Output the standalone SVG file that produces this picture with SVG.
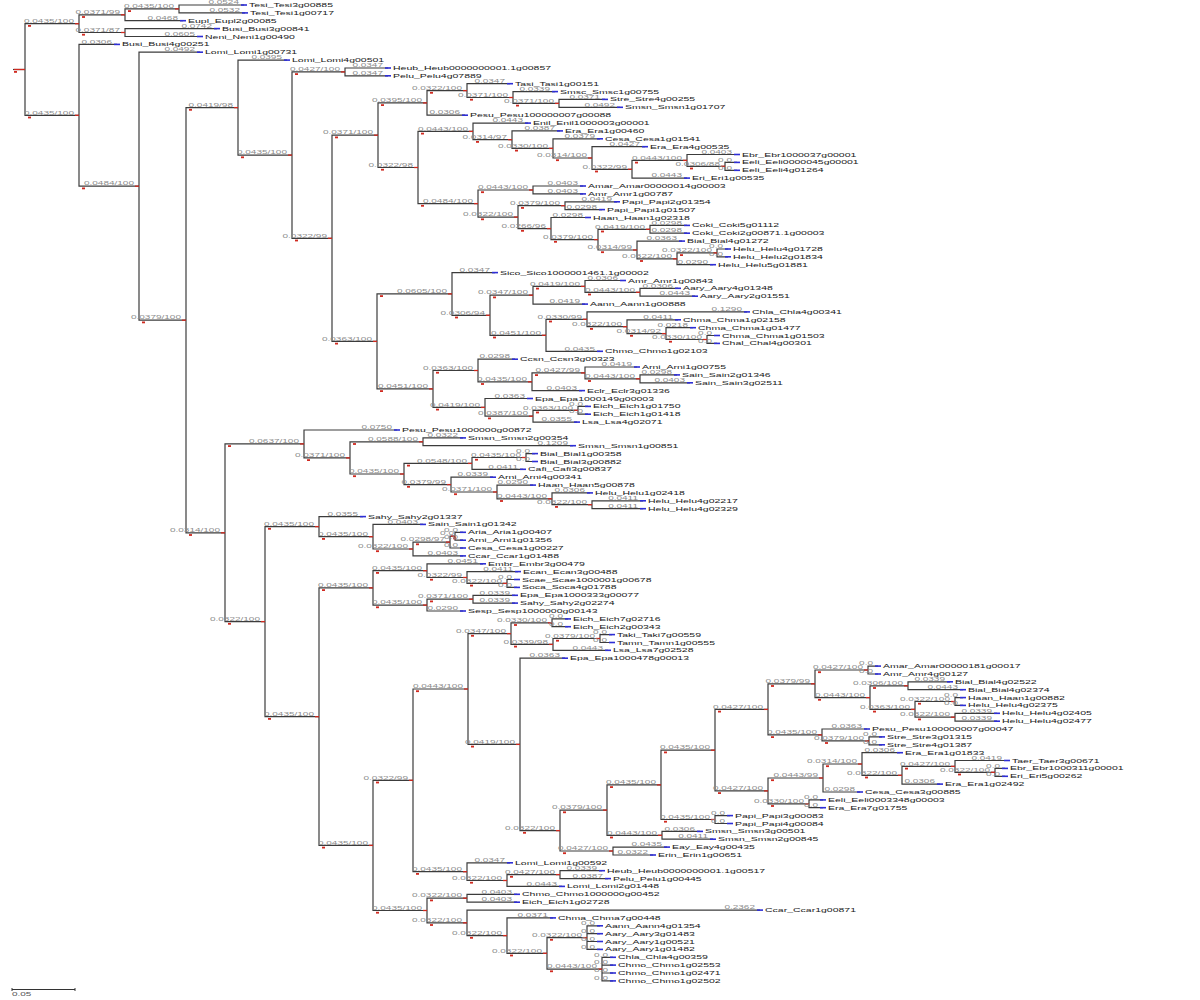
<svg xmlns="http://www.w3.org/2000/svg" width="1200" height="1000" viewBox="0 0 1200 1000">
<style>
.c path{fill:none;stroke:#3c3c3c;stroke-width:1.2}
.bt{stroke:#2e2ed6;stroke-width:1.6;fill:none}
.rt{stroke:#d02a20;stroke-width:1.3;fill:none}
.rm{fill:#d02a20}
text{font-family:"Liberation Sans",Arial,sans-serif;transform-box:fill-box;transform-origin:0 50%}
.nm{font-size:10.5px;fill:#202020;transform:scaleY(.55)}
.bl{font-size:10px;fill:#8c8c8c;text-anchor:end;transform:scaleY(.45)}
.sc{font-size:10px;fill:#555;transform:scaleY(.5)}
</style>
<rect width="1200" height="1000" fill="#fff"/>
<g id="connectors" class="c">
<path d="M13 69.5H25"/>
<path d="M79 23.7H25V115.3H79"/>
<path d="M125 14.8H79V32.5H125"/>
<path d="M179 8.9H125V20.7H183"/>
<path d="M244 5H179V12.9H245"/>
<path d="M217 28.6H125V36.5H200"/>
<path d="M117 44.4H79V186.2H139"/>
<path d="M200 52.2H139V320.2H186"/>
<path d="M238 107.6H186V532.8H225"/>
<path d="M287 60.1H238V155.1H292"/>
<path d="M345 71.9H292V238.3H332"/>
<path d="M388 68H345V75.8H388"/>
<path d="M378 135.2H332V341.4H377"/>
<path d="M427 102.9H378V167.5H418"/>
<path d="M467 90.6H427V115.2H465"/>
<path d="M510 83.7H467V97.5H513"/>
<path d="M555 91.6H513V103.4H559"/>
<path d="M605 99.4H559V107.3H620"/>
<path d="M473 131.4H418V203.6H478"/>
<path d="M528 123.1H473V139.7H512"/>
<path d="M560 130.9H512V148.4H553"/>
<path d="M600 138.8H553V158H592"/>
<path d="M645 146.7H592V169.3H632"/>
<path d="M687 160.4H632V178.1H687"/>
<path d="M737 154.5H687V166.3H725"/>
<path d="M737 162.4H725V170.3H737"/>
<path d="M533 190H478V217.1H518"/>
<path d="M583 186H533V193.9H583"/>
<path d="M565 205.7H518V228.6H551"/>
<path d="M617 201.8H565V209.6H602"/>
<path d="M588 217.5H551V239.6H598"/>
<path d="M650 229.3H598V250H637"/>
<path d="M687 225.4H650V233.2H687"/>
<path d="M682 241.1H637V258.8H677"/>
<path d="M717 252.9H677V264.7H713"/>
<path d="M728 249H717V256.8H728"/>
<path d="M452 293.9H377V388.9H433"/>
<path d="M495 272.6H452V315.3H490"/>
<path d="M533 295.2H490V335.3H546"/>
<path d="M585 286.4H533V304.1H585"/>
<path d="M623 280.5H585V292.3H640"/>
<path d="M678 288.3H640V296.2H695"/>
<path d="M587 319.3H546V351.3H600"/>
<path d="M747 311.9H587V326.7H627"/>
<path d="M678 319.8H627V333.6H666"/>
<path d="M693 327.7H666V339.5H707"/>
<path d="M717 335.5H707V343.4H717"/>
<path d="M478 370.5H433V407.4H485"/>
<path d="M515 359.2H478V381.8H532"/>
<path d="M585 372.9H532V390.6H582"/>
<path d="M637 367H585V378.8H640"/>
<path d="M677 374.9H640V382.8H690"/>
<path d="M530 398.5H485V416.2H533"/>
<path d="M578 410.3H533V422.1H577"/>
<path d="M588 406.4H578V414.2H588"/>
<path d="M304 443.9H225V621.6H265"/>
<path d="M397 430H304V457.9H350"/>
<path d="M423 441.8H350V474H404"/>
<path d="M463 437.9H423V445.7H573"/>
<path d="M472 463.4H404V484.6H451"/>
<path d="M526 457.5H472V469.3H523"/>
<path d="M535 453.6H526V461.5H535"/>
<path d="M493 477.2H451V492H497"/>
<path d="M533 485.1H497V498.8H552"/>
<path d="M590 492.9H552V504.7H592"/>
<path d="M643 500.8H592V508.7H643"/>
<path d="M319 526.6H265V716.7H319"/>
<path d="M363 516.6H319V536.7H373"/>
<path d="M423 524.4H373V549H413"/>
<path d="M450 542.1H413V555.9H463"/>
<path d="M455 536.2H450V548H463"/>
<path d="M463 532.3H455V540.2H463"/>
<path d="M373 587.9H319V845.4H373"/>
<path d="M427 570.7H373V605.1H427"/>
<path d="M483 563.8H427V577.5H467"/>
<path d="M518 571.6H467V583.4H507"/>
<path d="M517 579.5H507V587.4H517"/>
<path d="M473 599.2H427V611H463"/>
<path d="M515 595.3H473V603.1H515"/>
<path d="M413 780.3H373V910.5H427"/>
<path d="M468 689H413V871.7H467"/>
<path d="M511 633.6H468V744.4H520"/>
<path d="M552 622.8H511V644.4H553"/>
<path d="M568 618.9H552V626.7H568"/>
<path d="M600 638.5H553V650.3H608"/>
<path d="M612 634.6H600V642.5H612"/>
<path d="M565 658.2H520V830.6H560"/>
<path d="M607 810.1H560V851H613"/>
<path d="M661 784.9H607V835.3H662"/>
<path d="M715 750.2H661V819.5H715"/>
<path d="M768 709.4H715V790.9H768"/>
<path d="M815 683.8H768V734.9H822"/>
<path d="M868 670H815V697.6H870"/>
<path d="M878 666.1H868V674H878"/>
<path d="M908 685.8H870V709.4H915"/>
<path d="M950 681.8H908V689.7H963"/>
<path d="M955 701.5H915V717.2H955"/>
<path d="M963 697.6H955V705.4H963"/>
<path d="M997 713.3H955V721.2H997"/>
<path d="M867 729H822V740.8H869"/>
<path d="M882 736.9H869V744.8H882"/>
<path d="M823 778H768V803.8H809"/>
<path d="M862 764H823V792H860"/>
<path d="M900 752.7H862V775.3H902"/>
<path d="M955 766.4H902V784.1H940"/>
<path d="M1007 760.5H955V772.3H995"/>
<path d="M1005 768.4H995V776.3H1005"/>
<path d="M823 799.9H809V807.7H823"/>
<path d="M730 815.6H715V823.5H730"/>
<path d="M700 831.4H662V839.2H713"/>
<path d="M667 847.1H613V855H653"/>
<path d="M510 862.8H467V880.5H507"/>
<path d="M560 874.6H507V886.4H562"/>
<path d="M602 870.7H560V878.6H608"/>
<path d="M467 898.2H427V922.8H467"/>
<path d="M517 894.3H467V902.2H517"/>
<path d="M760 910.1H467V935.6H507"/>
<path d="M553 917.9H507V953.3H547"/>
<path d="M587 937.6H547V969.1H602"/>
<path d="M600 925.8H587V949.4H600M587 933.7H600M587 941.5H600"/>
<path d="M613 957.3H602V980.9H613M602 965.1H613M602 973H613"/>
</g>
<g id="n_root"><path class="rt" d="M14 69.5H25"/><rect class="rm" x="14" y="71" width="3" height="1.8"/></g>
<g id="nNA"><text class="bl" x="74" y="24.7">0.0435/100</text><path class="rt" d="M75 23.7H79"/><rect class="rm" x="28" y="25" width="3" height="1.8"/></g>
<g id="nNB"><text class="bl" x="74" y="116.3">0.0435/100</text><path class="rt" d="M75 115.3H79"/><rect class="rm" x="28" y="116.6" width="3" height="1.8"/></g>
<g id="nNA1"><text class="bl" x="120" y="15.8">0.0371/99</text><path class="rt" d="M121 14.8H125"/><rect class="rm" x="82" y="16.1" width="3" height="1.8"/></g>
<g id="nNA1a"><text class="bl" x="174" y="9.9">0.0435/100</text><path class="rt" d="M175 8.9H179"/><rect class="rm" x="128" y="10.2" width="3" height="1.8"/></g>
<g id="nNA2"><text class="bl" x="120" y="33.5">0.0371/87</text><path class="rt" d="M121 32.5H125"/><rect class="rm" x="82" y="33.8" width="3" height="1.8"/></g>
<g id="nNC"><text class="bl" x="134" y="187.2">0.0484/100</text><path class="rt" d="M135 186.2H139"/><rect class="rm" x="82" y="187.5" width="3" height="1.8"/></g>
<g id="nND"><text class="bl" x="181" y="321.2">0.0379/100</text><path class="rt" d="M182 320.2H186"/><rect class="rm" x="142" y="321.5" width="3" height="1.8"/></g>
<g id="nNE"><text class="bl" x="233" y="108.6">0.0419/98</text><path class="rt" d="M234 107.6H238"/><rect class="rm" x="189" y="108.9" width="3" height="1.8"/></g>
<g id="nNF"><text class="bl" x="220" y="533.8">0.0314/100</text><path class="rt" d="M221 532.8H225"/><rect class="rm" x="189" y="534.1" width="3" height="1.8"/></g>
<g id="nNG"><text class="bl" x="287" y="156.1">0.0435/100</text><path class="rt" d="M288 155.1H292"/><rect class="rm" x="241" y="156.4" width="3" height="1.8"/></g>
<g id="nNH"><text class="bl" x="340" y="72.9">0.0427/100</text><path class="rt" d="M341 71.9H345"/><rect class="rm" x="295" y="73.2" width="3" height="1.8"/></g>
<g id="nNI"><text class="bl" x="327" y="239.3">0.0322/99</text><path class="rt" d="M328 238.3H332"/><rect class="rm" x="295" y="239.6" width="3" height="1.8"/></g>
<g id="nNJ"><text class="bl" x="373" y="136.2">0.0371/100</text><path class="rt" d="M374 135.2H378"/><rect class="rm" x="335" y="136.5" width="3" height="1.8"/></g>
<g id="nNK"><text class="bl" x="372" y="342.4">0.0363/100</text><path class="rt" d="M373 341.4H377"/><rect class="rm" x="335" y="342.7" width="3" height="1.8"/></g>
<g id="nNL"><text class="bl" x="422" y="103.9">0.0395/100</text><path class="rt" d="M423 102.9H427"/><rect class="rm" x="381" y="104.2" width="3" height="1.8"/></g>
<g id="nNM"><text class="bl" x="413" y="168.5">0.0322/98</text><path class="rt" d="M414 167.5H418"/><rect class="rm" x="381" y="168.8" width="3" height="1.8"/></g>
<g id="nNN"><text class="bl" x="462" y="91.6">0.0322/100</text><path class="rt" d="M463 90.6H467"/><rect class="rm" x="430" y="91.9" width="3" height="1.8"/></g>
<g id="nNO"><text class="bl" x="508" y="98.5">0.0371/100</text><path class="rt" d="M509 97.5H513"/><rect class="rm" x="470" y="98.8" width="3" height="1.8"/></g>
<g id="nNP"><text class="bl" x="554" y="104.4">0.0371/100</text><path class="rt" d="M555 103.4H559"/><rect class="rm" x="516" y="104.7" width="3" height="1.8"/></g>
<g id="nNQ"><text class="bl" x="468" y="132.4">0.0443/100</text><path class="rt" d="M469 131.4H473"/><rect class="rm" x="421" y="132.7" width="3" height="1.8"/></g>
<g id="nNR"><text class="bl" x="473" y="204.6">0.0484/100</text><path class="rt" d="M474 203.6H478"/><rect class="rm" x="421" y="204.9" width="3" height="1.8"/></g>
<g id="nNS"><text class="bl" x="507" y="140.7">0.0314/97</text><path class="rt" d="M508 139.7H512"/><rect class="rm" x="476" y="141" width="3" height="1.8"/></g>
<g id="nNT"><text class="bl" x="548" y="149.4">0.0330/100</text><path class="rt" d="M549 148.4H553"/><rect class="rm" x="515" y="149.7" width="3" height="1.8"/></g>
<g id="nNU"><text class="bl" x="587" y="159">0.0314/100</text><path class="rt" d="M588 158H592"/><rect class="rm" x="556" y="159.3" width="3" height="1.8"/></g>
<g id="nNV"><text class="bl" x="627" y="170.3">0.0322/99</text><path class="rt" d="M628 169.3H632"/><rect class="rm" x="595" y="170.6" width="3" height="1.8"/></g>
<g id="nNW"><text class="bl" x="682" y="161.4">0.0443/100</text><path class="rt" d="M683 160.4H687"/><rect class="rm" x="635" y="161.7" width="3" height="1.8"/></g>
<g id="nNX"><text class="bl" x="720" y="167.3">0.0306/88</text><path class="rt" d="M721 166.3H725"/><rect class="rm" x="690" y="167.6" width="3" height="1.8"/></g>
<g id="nNR1"><text class="bl" x="528" y="191">0.0443/100</text><path class="rt" d="M529 190H533"/><rect class="rm" x="481" y="191.3" width="3" height="1.8"/></g>
<g id="nNR2"><text class="bl" x="513" y="218.1">0.0322/100</text><path class="rt" d="M514 217.1H518"/><rect class="rm" x="481" y="218.4" width="3" height="1.8"/></g>
<g id="nNR3"><text class="bl" x="560" y="206.7">0.0379/100</text><path class="rt" d="M561 205.7H565"/><rect class="rm" x="521" y="207" width="3" height="1.8"/></g>
<g id="nNR4"><text class="bl" x="546" y="229.6">0.0266/96</text><path class="rt" d="M547 228.6H551"/><rect class="rm" x="521" y="229.9" width="3" height="1.8"/></g>
<g id="nNR5"><text class="bl" x="593" y="240.6">0.0379/100</text><path class="rt" d="M594 239.6H598"/><rect class="rm" x="554" y="240.9" width="3" height="1.8"/></g>
<g id="nNR6"><text class="bl" x="645" y="230.3">0.0419/100</text><path class="rt" d="M646 229.3H650"/><rect class="rm" x="601" y="230.6" width="3" height="1.8"/></g>
<g id="nNR7"><text class="bl" x="632" y="251">0.0314/99</text><path class="rt" d="M633 250H637"/><rect class="rm" x="601" y="251.3" width="3" height="1.8"/></g>
<g id="nNR8"><text class="bl" x="672" y="259.8">0.0322/100</text><path class="rt" d="M673 258.8H677"/><rect class="rm" x="640" y="260.1" width="3" height="1.8"/></g>
<g id="nNR9"><text class="bl" x="712" y="253.9">0.0322/100</text><path class="rt" d="M713 252.9H717"/><rect class="rm" x="680" y="254.2" width="3" height="1.8"/></g>
<g id="n452"><text class="bl" x="447" y="294.9">0.0605/100</text><path class="rt" d="M448 293.9H452"/><rect class="rm" x="380" y="295.2" width="3" height="1.8"/></g>
<g id="n433"><text class="bl" x="428" y="389.9">0.0451/100</text><path class="rt" d="M429 388.9H433"/><rect class="rm" x="380" y="390.2" width="3" height="1.8"/></g>
<g id="n490"><text class="bl" x="485" y="316.3">0.0306/94</text><path class="rt" d="M486 315.3H490"/><rect class="rm" x="455" y="316.6" width="3" height="1.8"/></g>
<g id="n533a"><text class="bl" x="528" y="296.2">0.0347/100</text><path class="rt" d="M529 295.2H533"/><rect class="rm" x="493" y="296.5" width="3" height="1.8"/></g>
<g id="n585a"><text class="bl" x="580" y="287.4">0.0419/100</text><path class="rt" d="M581 286.4H585"/><rect class="rm" x="536" y="287.7" width="3" height="1.8"/></g>
<g id="n640a"><text class="bl" x="635" y="293.3">0.0443/100</text><path class="rt" d="M636 292.3H640"/><rect class="rm" x="588" y="293.6" width="3" height="1.8"/></g>
<g id="n546"><text class="bl" x="541" y="336.3">0.0451/100</text><path class="rt" d="M542 335.3H546"/><rect class="rm" x="493" y="336.6" width="3" height="1.8"/></g>
<g id="nNK3"><text class="bl" x="582" y="320.3">0.0330/99</text><path class="rt" d="M583 319.3H587"/><rect class="rm" x="549" y="320.6" width="3" height="1.8"/></g>
<g id="nNK4"><text class="bl" x="622" y="327.7">0.0322/100</text><path class="rt" d="M623 326.7H627"/><rect class="rm" x="590" y="328" width="3" height="1.8"/></g>
<g id="nNK5"><text class="bl" x="661" y="334.6">0.0314/92</text><path class="rt" d="M662 333.6H666"/><rect class="rm" x="630" y="334.9" width="3" height="1.8"/></g>
<g id="nNK6"><text class="bl" x="702" y="340.5">0.0330/100</text><path class="rt" d="M703 339.5H707"/><rect class="rm" x="669" y="340.8" width="3" height="1.8"/></g>
<g id="n478"><text class="bl" x="473" y="371.5">0.0363/100</text><path class="rt" d="M474 370.5H478"/><rect class="rm" x="436" y="371.8" width="3" height="1.8"/></g>
<g id="n532"><text class="bl" x="527" y="382.8">0.0435/100</text><path class="rt" d="M528 381.8H532"/><rect class="rm" x="481" y="383.1" width="3" height="1.8"/></g>
<g id="n585b"><text class="bl" x="580" y="373.9">0.0427/99</text><path class="rt" d="M581 372.9H585"/><rect class="rm" x="535" y="374.2" width="3" height="1.8"/></g>
<g id="n640b"><text class="bl" x="635" y="379.8">0.0443/100</text><path class="rt" d="M636 378.8H640"/><rect class="rm" x="588" y="380.1" width="3" height="1.8"/></g>
<g id="n485"><text class="bl" x="480" y="408.4">0.0419/100</text><path class="rt" d="M481 407.4H485"/><rect class="rm" x="436" y="408.7" width="3" height="1.8"/></g>
<g id="n533b"><text class="bl" x="528" y="417.2">0.0387/100</text><path class="rt" d="M529 416.2H533"/><rect class="rm" x="488" y="417.5" width="3" height="1.8"/></g>
<g id="n578"><text class="bl" x="573" y="411.3">0.0363/100</text><path class="rt" d="M574 410.3H578"/><rect class="rm" x="536" y="411.6" width="3" height="1.8"/></g>
<g id="n304"><text class="bl" x="299" y="444.9">0.0637/100</text><path class="rt" d="M300 443.9H304"/><rect class="rm" x="228" y="445.2" width="3" height="1.8"/></g>
<g id="n350"><text class="bl" x="345" y="458.9">0.0371/100</text><path class="rt" d="M346 457.9H350"/><rect class="rm" x="307" y="459.2" width="3" height="1.8"/></g>
<g id="n423"><text class="bl" x="418" y="442.8">0.0588/100</text><path class="rt" d="M419 441.8H423"/><rect class="rm" x="353" y="443.1" width="3" height="1.8"/></g>
<g id="n404"><text class="bl" x="399" y="475">0.0435/100</text><path class="rt" d="M400 474H404"/><rect class="rm" x="353" y="475.3" width="3" height="1.8"/></g>
<g id="n472"><text class="bl" x="467" y="464.4">0.0548/100</text><path class="rt" d="M468 463.4H472"/><rect class="rm" x="407" y="464.7" width="3" height="1.8"/></g>
<g id="n526"><text class="bl" x="521" y="458.5">0.0435/100</text><path class="rt" d="M522 457.5H526"/><rect class="rm" x="475" y="458.8" width="3" height="1.8"/></g>
<g id="n451"><text class="bl" x="446" y="485.6">0.0379/99</text><path class="rt" d="M447 484.6H451"/><rect class="rm" x="407" y="485.9" width="3" height="1.8"/></g>
<g id="n497"><text class="bl" x="492" y="493">0.0371/100</text><path class="rt" d="M493 492H497"/><rect class="rm" x="454" y="493.3" width="3" height="1.8"/></g>
<g id="n552"><text class="bl" x="547" y="499.8">0.0443/100</text><path class="rt" d="M548 498.8H552"/><rect class="rm" x="500" y="500.1" width="3" height="1.8"/></g>
<g id="n592"><text class="bl" x="587" y="505.7">0.0322/100</text><path class="rt" d="M588 504.7H592"/><rect class="rm" x="555" y="506" width="3" height="1.8"/></g>
<g id="n265"><text class="bl" x="260" y="622.6">0.0322/100</text><path class="rt" d="M261 621.6H265"/><rect class="rm" x="228" y="622.9" width="3" height="1.8"/></g>
<g id="n318"><text class="bl" x="314" y="527.6">0.0435/100</text><path class="rt" d="M315 526.6H319"/><rect class="rm" x="268" y="527.9" width="3" height="1.8"/></g>
<g id="n373a"><text class="bl" x="368" y="537.7">0.0435/100</text><path class="rt" d="M369 536.7H373"/><rect class="rm" x="322" y="538" width="3" height="1.8"/></g>
<g id="n413a"><text class="bl" x="408" y="550">0.0322/100</text><path class="rt" d="M409 549H413"/><rect class="rm" x="376" y="550.3" width="3" height="1.8"/></g>
<g id="n450"><text class="bl" x="445" y="543.1">0.0298/97</text><path class="rt" d="M446 542.1H450"/><rect class="rm" x="416" y="543.4" width="3" height="1.8"/></g>
<g id="n455"><text class="bl" x="454" y="537.2">0.0</text><path class="rt" d="M451 536.2H455"/><rect class="rm" x="453" y="537.5" width="3" height="1.8"/></g>
<g id="n319"><text class="bl" x="314" y="717.7">0.0435/100</text><path class="rt" d="M315 716.7H319"/><rect class="rm" x="268" y="718" width="3" height="1.8"/></g>
<g id="n373b"><text class="bl" x="368" y="588.9">0.0435/100</text><path class="rt" d="M369 587.9H373"/><rect class="rm" x="322" y="589.2" width="3" height="1.8"/></g>
<g id="n427a"><text class="bl" x="422" y="571.7">0.0435/100</text><path class="rt" d="M423 570.7H427"/><rect class="rm" x="376" y="572" width="3" height="1.8"/></g>
<g id="n467e"><text class="bl" x="462" y="578.5">0.0322/99</text><path class="rt" d="M463 577.5H467"/><rect class="rm" x="430" y="578.8" width="3" height="1.8"/></g>
<g id="n507c"><text class="bl" x="502" y="584.4">0.0322/100</text><path class="rt" d="M503 583.4H507"/><rect class="rm" x="470" y="584.7" width="3" height="1.8"/></g>
<g id="n427b"><text class="bl" x="422" y="606.1">0.0435/100</text><path class="rt" d="M423 605.1H427"/><rect class="rm" x="376" y="606.4" width="3" height="1.8"/></g>
<g id="n473"><text class="bl" x="468" y="600.2">0.0371/100</text><path class="rt" d="M469 599.2H473"/><rect class="rm" x="430" y="600.5" width="3" height="1.8"/></g>
<g id="n373c"><text class="bl" x="368" y="846.4">0.0435/100</text><path class="rt" d="M369 845.4H373"/><rect class="rm" x="322" y="846.7" width="3" height="1.8"/></g>
<g id="n413b"><text class="bl" x="408" y="781.3">0.0322/99</text><path class="rt" d="M409 780.3H413"/><rect class="rm" x="376" y="781.6" width="3" height="1.8"/></g>
<g id="n468"><text class="bl" x="463" y="690">0.0443/100</text><path class="rt" d="M464 689H468"/><rect class="rm" x="416" y="690.3" width="3" height="1.8"/></g>
<g id="n511"><text class="bl" x="506" y="634.6">0.0347/100</text><path class="rt" d="M507 633.6H511"/><rect class="rm" x="471" y="634.9" width="3" height="1.8"/></g>
<g id="n552a"><text class="bl" x="547" y="623.8">0.0330/100</text><path class="rt" d="M548 622.8H552"/><rect class="rm" x="514" y="624.1" width="3" height="1.8"/></g>
<g id="n553"><text class="bl" x="548" y="645.4">0.0339/98</text><path class="rt" d="M549 644.4H553"/><rect class="rm" x="514" y="645.7" width="3" height="1.8"/></g>
<g id="n600"><text class="bl" x="595" y="639.5">0.0379/100</text><path class="rt" d="M596 638.5H600"/><rect class="rm" x="556" y="639.8" width="3" height="1.8"/></g>
<g id="n520"><text class="bl" x="515" y="745.4">0.0419/100</text><path class="rt" d="M516 744.4H520"/><rect class="rm" x="471" y="745.7" width="3" height="1.8"/></g>
<g id="n560"><text class="bl" x="555" y="831.6">0.0322/100</text><path class="rt" d="M556 830.6H560"/><rect class="rm" x="523" y="831.9" width="3" height="1.8"/></g>
<g id="n607"><text class="bl" x="602" y="811.1">0.0379/100</text><path class="rt" d="M603 810.1H607"/><rect class="rm" x="563" y="811.4" width="3" height="1.8"/></g>
<g id="n661"><text class="bl" x="656" y="785.9">0.0435/100</text><path class="rt" d="M657 784.9H661"/><rect class="rm" x="610" y="786.2" width="3" height="1.8"/></g>
<g id="n715"><text class="bl" x="710" y="751.2">0.0435/100</text><path class="rt" d="M711 750.2H715"/><rect class="rm" x="664" y="751.5" width="3" height="1.8"/></g>
<g id="n768a"><text class="bl" x="763" y="710.4">0.0427/100</text><path class="rt" d="M764 709.4H768"/><rect class="rm" x="718" y="710.7" width="3" height="1.8"/></g>
<g id="n815"><text class="bl" x="810" y="684.8">0.0379/99</text><path class="rt" d="M811 683.8H815"/><rect class="rm" x="771" y="685.1" width="3" height="1.8"/></g>
<g id="n868"><text class="bl" x="863" y="671">0.0427/100</text><path class="rt" d="M864 670H868"/><rect class="rm" x="818" y="671.3" width="3" height="1.8"/></g>
<g id="n870"><text class="bl" x="865" y="698.6">0.0443/100</text><path class="rt" d="M866 697.6H870"/><rect class="rm" x="818" y="698.9" width="3" height="1.8"/></g>
<g id="n908"><text class="bl" x="903" y="686.8">0.0306/100</text><path class="rt" d="M904 685.8H908"/><rect class="rm" x="873" y="687.1" width="3" height="1.8"/></g>
<g id="n915"><text class="bl" x="910" y="710.4">0.0363/100</text><path class="rt" d="M911 709.4H915"/><rect class="rm" x="873" y="710.7" width="3" height="1.8"/></g>
<g id="n955a"><text class="bl" x="950" y="702.5">0.0322/100</text><path class="rt" d="M951 701.5H955"/><rect class="rm" x="918" y="702.8" width="3" height="1.8"/></g>
<g id="n955b"><text class="bl" x="950" y="718.2">0.0322/100</text><path class="rt" d="M951 717.2H955"/><rect class="rm" x="918" y="718.5" width="3" height="1.8"/></g>
<g id="n822"><text class="bl" x="817" y="735.9">0.0435/100</text><path class="rt" d="M818 734.9H822"/><rect class="rm" x="771" y="736.2" width="3" height="1.8"/></g>
<g id="n869"><text class="bl" x="864" y="741.8">0.0379/100</text><path class="rt" d="M865 740.8H869"/><rect class="rm" x="825" y="742.1" width="3" height="1.8"/></g>
<g id="n768b"><text class="bl" x="763" y="791.9">0.0427/100</text><path class="rt" d="M764 790.9H768"/><rect class="rm" x="718" y="792.2" width="3" height="1.8"/></g>
<g id="n823"><text class="bl" x="818" y="779">0.0443/99</text><path class="rt" d="M819 778H823"/><rect class="rm" x="771" y="779.3" width="3" height="1.8"/></g>
<g id="n862"><text class="bl" x="857" y="765">0.0314/100</text><path class="rt" d="M858 764H862"/><rect class="rm" x="826" y="765.3" width="3" height="1.8"/></g>
<g id="n902"><text class="bl" x="897" y="776.3">0.0322/100</text><path class="rt" d="M898 775.3H902"/><rect class="rm" x="865" y="776.6" width="3" height="1.8"/></g>
<g id="n955c"><text class="bl" x="950" y="767.4">0.0427/100</text><path class="rt" d="M951 766.4H955"/><rect class="rm" x="905" y="767.7" width="3" height="1.8"/></g>
<g id="n995"><text class="bl" x="990" y="773.3">0.0322/100</text><path class="rt" d="M991 772.3H995"/><rect class="rm" x="958" y="773.6" width="3" height="1.8"/></g>
<g id="n809"><text class="bl" x="804" y="804.8">0.0330/100</text><path class="rt" d="M805 803.8H809"/><rect class="rm" x="771" y="805.1" width="3" height="1.8"/></g>
<g id="n715b"><text class="bl" x="710" y="820.5">0.0435/100</text><path class="rt" d="M711 819.5H715"/><rect class="rm" x="664" y="820.8" width="3" height="1.8"/></g>
<g id="n662"><text class="bl" x="657" y="836.3">0.0443/100</text><path class="rt" d="M658 835.3H662"/><rect class="rm" x="610" y="836.6" width="3" height="1.8"/></g>
<g id="n613"><text class="bl" x="608" y="852">0.0427/100</text><path class="rt" d="M609 851H613"/><rect class="rm" x="563" y="852.3" width="3" height="1.8"/></g>
<g id="n467b"><text class="bl" x="462" y="872.7">0.0435/100</text><path class="rt" d="M463 871.7H467"/><rect class="rm" x="416" y="873" width="3" height="1.8"/></g>
<g id="n507"><text class="bl" x="502" y="881.5">0.0322/100</text><path class="rt" d="M503 880.5H507"/><rect class="rm" x="470" y="881.8" width="3" height="1.8"/></g>
<g id="n560b"><text class="bl" x="555" y="875.6">0.0427/100</text><path class="rt" d="M556 874.6H560"/><rect class="rm" x="510" y="875.9" width="3" height="1.8"/></g>
<g id="n427c"><text class="bl" x="422" y="911.5">0.0435/100</text><path class="rt" d="M423 910.5H427"/><rect class="rm" x="376" y="911.8" width="3" height="1.8"/></g>
<g id="n467c"><text class="bl" x="462" y="899.2">0.0322/100</text><path class="rt" d="M463 898.2H467"/><rect class="rm" x="430" y="899.5" width="3" height="1.8"/></g>
<g id="n467d"><text class="bl" x="462" y="923.8">0.0322/100</text><path class="rt" d="M463 922.8H467"/><rect class="rm" x="430" y="924.1" width="3" height="1.8"/></g>
<g id="n507b"><text class="bl" x="502" y="936.6">0.0322/100</text><path class="rt" d="M503 935.6H507"/><rect class="rm" x="470" y="936.9" width="3" height="1.8"/></g>
<g id="n547"><text class="bl" x="542" y="954.3">0.0322/100</text><path class="rt" d="M543 953.3H547"/><rect class="rm" x="510" y="954.6" width="3" height="1.8"/></g>
<g id="n587"><text class="bl" x="582" y="938.6">0.0322/100</text><path class="rt" d="M583 937.6H587"/><rect class="rm" x="550" y="938.9" width="3" height="1.8"/></g>
<g id="n602"><text class="bl" x="597" y="970.1">0.0443/100</text><path class="rt" d="M598 969.1H602"/><rect class="rm" x="550" y="970.4" width="3" height="1.8"/></g>
<g id="L0"><path class="bt" d="M241 5H247"/><text class="bl" x="239" y="6">0.0524</text><text class="nm" x="249" y="8.7">Tesi_Tesi3g00885</text></g>
<g id="L1"><path class="bt" d="M242 12.9H248"/><text class="bl" x="240" y="13.9">0.0532</text><text class="nm" x="250" y="16.6">Tesi_Tesi1g00717</text></g>
<g id="L2"><path class="bt" d="M180 20.7H186"/><text class="bl" x="178" y="21.7">0.0468</text><text class="nm" x="188" y="24.4">Eupl_Eupl2g00085</text></g>
<g id="L3"><path class="bt" d="M214 28.6H220"/><text class="bl" x="212" y="29.6">0.0742</text><text class="nm" x="222" y="32.3">Busi_Busi3g00841</text></g>
<g id="L4"><path class="bt" d="M197 36.5H203"/><text class="bl" x="195" y="37.5">0.0605</text><text class="nm" x="205" y="40.2">Neni_Neni1g00490</text></g>
<g id="L5"><path class="bt" d="M114 44.4H120"/><text class="bl" x="112" y="45.4">0.0306</text><text class="nm" x="122" y="48.1">Busi_Busi4g00251</text></g>
<g id="L6"><path class="bt" d="M197 52.2H203"/><text class="bl" x="195" y="53.2">0.0492</text><text class="nm" x="205" y="55.9">Lomi_Lomi1g00731</text></g>
<g id="L7"><path class="bt" d="M284 60.1H290"/><text class="bl" x="282" y="61.1">0.0395</text><text class="nm" x="292" y="63.8">Lomi_Lomi4g00501</text></g>
<g id="L8"><path class="bt" d="M385 68H391"/><text class="bl" x="383" y="69">0.0347</text><text class="nm" x="393" y="71.7">Heub_Heub0000000001.1g00857</text></g>
<g id="L9"><path class="bt" d="M385 75.8H391"/><text class="bl" x="383" y="76.8">0.0347</text><text class="nm" x="393" y="79.5">Pelu_Pelu4g07889</text></g>
<g id="L10"><path class="bt" d="M507 83.7H513"/><text class="bl" x="505" y="84.7">0.0347</text><text class="nm" x="515" y="87.4">Tasi_Tasi1g00151</text></g>
<g id="L11"><path class="bt" d="M552 91.6H558"/><text class="bl" x="550" y="92.6">0.0339</text><text class="nm" x="560" y="95.3">Smsc_Smsc1g00755</text></g>
<g id="L12"><path class="bt" d="M602 99.4H608"/><text class="bl" x="600" y="100.4">0.0371</text><text class="nm" x="610" y="103.1">Stre_Stre4g00255</text></g>
<g id="L13"><path class="bt" d="M617 107.3H623"/><text class="bl" x="615" y="108.3">0.0492</text><text class="nm" x="625" y="111">Smsn_Smsn1g01707</text></g>
<g id="L14"><path class="bt" d="M462 115.2H468"/><text class="bl" x="460" y="116.2">0.0306</text><text class="nm" x="470" y="118.9">Pesu_Pesu100000007g00088</text></g>
<g id="L15"><path class="bt" d="M525 123.1H531"/><text class="bl" x="523" y="124.1">0.0443</text><text class="nm" x="533" y="126.8">Enil_Enil1000003g00001</text></g>
<g id="L16"><path class="bt" d="M557 130.9H563"/><text class="bl" x="555" y="131.9">0.0387</text><text class="nm" x="565" y="134.6">Era_Era1g00460</text></g>
<g id="L17"><path class="bt" d="M597 138.8H603"/><text class="bl" x="595" y="139.8">0.0379</text><text class="nm" x="605" y="142.5">Cesa_Cesa1g01541</text></g>
<g id="L18"><path class="bt" d="M642 146.7H648"/><text class="bl" x="640" y="147.7">0.0427</text><text class="nm" x="650" y="150.4">Era_Era4g00535</text></g>
<g id="L19"><path class="bt" d="M734 154.5H740"/><text class="bl" x="732" y="155.5">0.0403</text><text class="nm" x="742" y="158.2">Ebr_Ebr1000037g00001</text></g>
<g id="L20"><path class="bt" d="M734 162.4H740"/><text class="bl" x="732" y="163.4">0.0</text><text class="nm" x="742" y="166.1">Eeli_Eeli0000045g00001</text></g>
<g id="L21"><path class="bt" d="M734 170.3H740"/><text class="bl" x="732" y="171.3">0.0</text><text class="nm" x="742" y="174">Eeli_Eeli4g01264</text></g>
<g id="L22"><path class="bt" d="M684 178.1H690"/><text class="bl" x="682" y="179.1">0.0443</text><text class="nm" x="692" y="181.8">Eri_Eri1g00535</text></g>
<g id="L23"><path class="bt" d="M580 186H586"/><text class="bl" x="578" y="187">0.0403</text><text class="nm" x="588" y="189.7">Amar_Amar00000014g00003</text></g>
<g id="L24"><path class="bt" d="M580 193.9H586"/><text class="bl" x="578" y="194.9">0.0403</text><text class="nm" x="588" y="197.6">Amr_Amr1g00787</text></g>
<g id="L25"><path class="bt" d="M614 201.8H620"/><text class="bl" x="612" y="202.8">0.0419</text><text class="nm" x="622" y="205.5">Papi_Papi2g01354</text></g>
<g id="L26"><path class="bt" d="M599 209.6H605"/><text class="bl" x="597" y="210.6">0.0298</text><text class="nm" x="607" y="213.3">Papi_Papi1g01507</text></g>
<g id="L27"><path class="bt" d="M585 217.5H591"/><text class="bl" x="583" y="218.5">0.0298</text><text class="nm" x="593" y="221.2">Haan_Haan1g02318</text></g>
<g id="L28"><path class="bt" d="M684 225.4H690"/><text class="bl" x="682" y="226.4">0.0298</text><text class="nm" x="692" y="229.1">Coki_Coki5g01112</text></g>
<g id="L29"><path class="bt" d="M684 233.2H690"/><text class="bl" x="682" y="234.2">0.0298</text><text class="nm" x="692" y="236.9">Coki_Coki2g00871.1g00003</text></g>
<g id="L30"><path class="bt" d="M679 241.1H685"/><text class="bl" x="677" y="242.1">0.0363</text><text class="nm" x="687" y="244.8">Bial_Bial4g01272</text></g>
<g id="L31"><path class="bt" d="M725 249H731"/><text class="bl" x="723" y="250">0.0</text><text class="nm" x="733" y="252.7">Helu_Helu4g01728</text></g>
<g id="L32"><path class="bt" d="M725 256.8H731"/><text class="bl" x="723" y="257.8">0.0</text><text class="nm" x="733" y="260.5">Helu_Helu2g01834</text></g>
<g id="L33"><path class="bt" d="M710 264.7H716"/><text class="bl" x="708" y="265.7">0.0290</text><text class="nm" x="718" y="268.4">Helu_Helu5g01881</text></g>
<g id="L34"><path class="bt" d="M492 272.6H498"/><text class="bl" x="490" y="273.6">0.0347</text><text class="nm" x="500" y="276.3">Sico_Sico1000001461.1g00002</text></g>
<g id="L35"><path class="bt" d="M620 280.5H626"/><text class="bl" x="618" y="281.5">0.0306</text><text class="nm" x="628" y="284.2">Amr_Amr1g00843</text></g>
<g id="L36"><path class="bt" d="M675 288.3H681"/><text class="bl" x="673" y="289.3">0.0306</text><text class="nm" x="683" y="292">Aary_Aary4g01348</text></g>
<g id="L37"><path class="bt" d="M692 296.2H698"/><text class="bl" x="690" y="297.2">0.0443</text><text class="nm" x="700" y="299.9">Aary_Aary2g01551</text></g>
<g id="L38"><path class="bt" d="M582 304.1H588"/><text class="bl" x="580" y="305.1">0.0419</text><text class="nm" x="590" y="307.8">Aann_Aann1g00888</text></g>
<g id="L39"><path class="bt" d="M744 311.9H750"/><text class="bl" x="742" y="312.9">0.1290</text><text class="nm" x="752" y="315.6">Chla_Chla4g00341</text></g>
<g id="L40"><path class="bt" d="M675 319.8H681"/><text class="bl" x="673" y="320.8">0.0411</text><text class="nm" x="683" y="323.5">Chma_Chma1g02158</text></g>
<g id="L41"><path class="bt" d="M690 327.7H696"/><text class="bl" x="688" y="328.7">0.0218</text><text class="nm" x="698" y="331.4">Chma_Chma1g01477</text></g>
<g id="L42"><path class="bt" d="M714 335.5H720"/><text class="bl" x="712" y="336.5">0.0</text><text class="nm" x="722" y="339.2">Chma_Chma1g01503</text></g>
<g id="L43"><path class="bt" d="M714 343.4H720"/><text class="bl" x="712" y="344.4">0.0</text><text class="nm" x="722" y="347.1">Chal_Chal4g00301</text></g>
<g id="L44"><path class="bt" d="M597 351.3H603"/><text class="bl" x="595" y="352.3">0.0435</text><text class="nm" x="605" y="355">Chmo_Chmo1g02103</text></g>
<g id="L45"><path class="bt" d="M512 359.2H518"/><text class="bl" x="510" y="360.2">0.0298</text><text class="nm" x="520" y="362.9">Ccsn_Ccsn3g00323</text></g>
<g id="L46"><path class="bt" d="M634 367H640"/><text class="bl" x="632" y="368">0.0419</text><text class="nm" x="642" y="370.7">Arni_Arni1g00755</text></g>
<g id="L47"><path class="bt" d="M674 374.9H680"/><text class="bl" x="672" y="375.9">0.0298</text><text class="nm" x="682" y="378.6">Sain_Sain2g01346</text></g>
<g id="L48"><path class="bt" d="M687 382.8H693"/><text class="bl" x="685" y="383.8">0.0403</text><text class="nm" x="695" y="386.5">Sain_Sain3g02511</text></g>
<g id="L49"><path class="bt" d="M579 390.6H585"/><text class="bl" x="577" y="391.6">0.0403</text><text class="nm" x="587" y="394.3">Eclr_Eclr3g01336</text></g>
<g id="L50"><path class="bt" d="M527 398.5H533"/><text class="bl" x="525" y="399.5">0.0363</text><text class="nm" x="535" y="402.2">Epa_Epa1000149g00003</text></g>
<g id="L51"><path class="bt" d="M585 406.4H591"/><text class="bl" x="583" y="407.4">0.0</text><text class="nm" x="593" y="410.1">Eich_Eich1g01750</text></g>
<g id="L52"><path class="bt" d="M585 414.2H591"/><text class="bl" x="583" y="415.2">0.0</text><text class="nm" x="593" y="417.9">Eich_Eich1g01418</text></g>
<g id="L53"><path class="bt" d="M574 422.1H580"/><text class="bl" x="572" y="423.1">0.0355</text><text class="nm" x="582" y="425.8">Lsa_Lsa4g02071</text></g>
<g id="L54"><path class="bt" d="M394 430H400"/><text class="bl" x="392" y="431">0.0750</text><text class="nm" x="402" y="433.7">Pesu_Pesu1000000g00872</text></g>
<g id="L55"><path class="bt" d="M460 437.9H466"/><text class="bl" x="458" y="438.9">0.0322</text><text class="nm" x="468" y="441.6">Smsn_Smsn2g00354</text></g>
<g id="L56"><path class="bt" d="M570 445.7H576"/><text class="bl" x="568" y="446.7">0.1209</text><text class="nm" x="578" y="449.4">Smsn_Smsn1g00851</text></g>
<g id="L57"><path class="bt" d="M532 453.6H538"/><text class="bl" x="530" y="454.6">0.0</text><text class="nm" x="540" y="457.3">Bial_Bial1g00358</text></g>
<g id="L58"><path class="bt" d="M532 461.5H538"/><text class="bl" x="530" y="462.5">0.0</text><text class="nm" x="540" y="465.2">Bial_Bial3g00882</text></g>
<g id="L59"><path class="bt" d="M520 469.3H526"/><text class="bl" x="518" y="470.3">0.0411</text><text class="nm" x="528" y="473">Cafi_Cafi3g00837</text></g>
<g id="L60"><path class="bt" d="M490 477.2H496"/><text class="bl" x="488" y="478.2">0.0339</text><text class="nm" x="498" y="480.9">Arni_Arni4g00341</text></g>
<g id="L61"><path class="bt" d="M530 485.1H536"/><text class="bl" x="528" y="486.1">0.0290</text><text class="nm" x="538" y="488.8">Haan_Haan5g00878</text></g>
<g id="L62"><path class="bt" d="M587 492.9H593"/><text class="bl" x="585" y="493.9">0.0306</text><text class="nm" x="595" y="496.6">Helu_Helu1g02418</text></g>
<g id="L63"><path class="bt" d="M640 500.8H646"/><text class="bl" x="638" y="501.8">0.0411</text><text class="nm" x="648" y="504.5">Helu_Helu4g02217</text></g>
<g id="L64"><path class="bt" d="M640 508.7H646"/><text class="bl" x="638" y="509.7">0.0411</text><text class="nm" x="648" y="512.4">Helu_Helu4g02329</text></g>
<g id="L65"><path class="bt" d="M360 516.6H366"/><text class="bl" x="358" y="517.6">0.0355</text><text class="nm" x="368" y="520.3">Sahy_Sahy2g01337</text></g>
<g id="L66"><path class="bt" d="M420 524.4H426"/><text class="bl" x="418" y="525.4">0.0403</text><text class="nm" x="428" y="528.1">Sain_Sain1g01342</text></g>
<g id="L67"><path class="bt" d="M460 532.3H466"/><text class="bl" x="458" y="533.3">0.0</text><text class="nm" x="468" y="536">Aria_Aria1g00407</text></g>
<g id="L68"><path class="bt" d="M460 540.2H466"/><text class="bl" x="458" y="541.2">0.0</text><text class="nm" x="468" y="543.9">Arni_Arni1g01356</text></g>
<g id="L69"><path class="bt" d="M460 548H466"/><text class="bl" x="458" y="549">0.0</text><text class="nm" x="468" y="551.7">Cesa_Cesa1g00227</text></g>
<g id="L70"><path class="bt" d="M460 555.9H466"/><text class="bl" x="458" y="556.9">0.0403</text><text class="nm" x="468" y="559.6">Ccar_Ccar1g01488</text></g>
<g id="L71"><path class="bt" d="M480 563.8H486"/><text class="bl" x="478" y="564.8">0.0451</text><text class="nm" x="488" y="567.5">Embr_Embr3g00479</text></g>
<g id="L72"><path class="bt" d="M515 571.6H521"/><text class="bl" x="513" y="572.6">0.0411</text><text class="nm" x="523" y="575.3">Ecan_Ecan3g00488</text></g>
<g id="L73"><path class="bt" d="M514 579.5H520"/><text class="bl" x="512" y="580.5">0.0</text><text class="nm" x="522" y="583.2">Scae_Scae1000001g00678</text></g>
<g id="L74"><path class="bt" d="M514 587.4H520"/><text class="bl" x="512" y="588.4">0.0</text><text class="nm" x="522" y="591.1">Soca_Soca4g01788</text></g>
<g id="L75"><path class="bt" d="M512 595.3H518"/><text class="bl" x="510" y="596.3">0.0339</text><text class="nm" x="520" y="599">Epa_Epa1000333g00077</text></g>
<g id="L76"><path class="bt" d="M512 603.1H518"/><text class="bl" x="510" y="604.1">0.0339</text><text class="nm" x="520" y="606.8">Sahy_Sahy2g02274</text></g>
<g id="L77"><path class="bt" d="M460 611H466"/><text class="bl" x="458" y="612">0.0290</text><text class="nm" x="468" y="614.7">Sesp_Sesp1000000g00143</text></g>
<g id="L78"><path class="bt" d="M565 618.9H571"/><text class="bl" x="563" y="619.9">0.0</text><text class="nm" x="573" y="622.6">Eich_Eich7g02716</text></g>
<g id="L79"><path class="bt" d="M565 626.7H571"/><text class="bl" x="563" y="627.7">0.0</text><text class="nm" x="573" y="630.4">Eich_Eich2g00343</text></g>
<g id="L80"><path class="bt" d="M609 634.6H615"/><text class="bl" x="607" y="635.6">0.0</text><text class="nm" x="617" y="638.3">Taki_Taki7g00559</text></g>
<g id="L81"><path class="bt" d="M609 642.5H615"/><text class="bl" x="607" y="643.5">0.0</text><text class="nm" x="617" y="646.2">Tamn_Tamn1g00555</text></g>
<g id="L82"><path class="bt" d="M605 650.3H611"/><text class="bl" x="603" y="651.3">0.0443</text><text class="nm" x="613" y="654">Lsa_Lsa7g02528</text></g>
<g id="L83"><path class="bt" d="M562 658.2H568"/><text class="bl" x="560" y="659.2">0.0363</text><text class="nm" x="570" y="661.9">Epa_Epa1000478g00013</text></g>
<g id="L84"><path class="bt" d="M875 666.1H881"/><text class="bl" x="873" y="667.1">0.0</text><text class="nm" x="883" y="669.8">Amar_Amar00000181g00017</text></g>
<g id="L85"><path class="bt" d="M875 674H881"/><text class="bl" x="873" y="675">0.0</text><text class="nm" x="883" y="677.7">Amr_Amr4g00127</text></g>
<g id="L86"><path class="bt" d="M947 681.8H953"/><text class="bl" x="945" y="682.8">0.0339</text><text class="nm" x="955" y="685.5">Bial_Bial4g02522</text></g>
<g id="L87"><path class="bt" d="M960 689.7H966"/><text class="bl" x="958" y="690.7">0.0443</text><text class="nm" x="968" y="693.4">Bial_Bial4g02374</text></g>
<g id="L88"><path class="bt" d="M960 697.6H966"/><text class="bl" x="958" y="698.6">0.0</text><text class="nm" x="968" y="701.3">Haan_Haan1g00882</text></g>
<g id="L89"><path class="bt" d="M960 705.4H966"/><text class="bl" x="958" y="706.4">0.0</text><text class="nm" x="968" y="709.1">Helu_Helu4g02375</text></g>
<g id="L90"><path class="bt" d="M994 713.3H1000"/><text class="bl" x="992" y="714.3">0.0339</text><text class="nm" x="1002" y="717">Helu_Helu4g02405</text></g>
<g id="L91"><path class="bt" d="M994 721.2H1000"/><text class="bl" x="992" y="722.2">0.0339</text><text class="nm" x="1002" y="724.9">Helu_Helu4g02477</text></g>
<g id="L92"><path class="bt" d="M864 729H870"/><text class="bl" x="862" y="730">0.0363</text><text class="nm" x="872" y="732.7">Pesu_Pesu100000007g00047</text></g>
<g id="L93"><path class="bt" d="M879 736.9H885"/><text class="bl" x="877" y="737.9">0.0</text><text class="nm" x="887" y="740.6">Stre_Stre3g01315</text></g>
<g id="L94"><path class="bt" d="M879 744.8H885"/><text class="bl" x="877" y="745.8">0.0</text><text class="nm" x="887" y="748.5">Stre_Stre4g01387</text></g>
<g id="L95"><path class="bt" d="M897 752.7H903"/><text class="bl" x="895" y="753.7">0.0306</text><text class="nm" x="905" y="756.4">Era_Era1g01833</text></g>
<g id="L96"><path class="bt" d="M1004 760.5H1010"/><text class="bl" x="1002" y="761.5">0.0419</text><text class="nm" x="1012" y="764.2">Taer_Taer3g00671</text></g>
<g id="L97"><path class="bt" d="M1002 768.4H1008"/><text class="bl" x="1000" y="769.4">0.0</text><text class="nm" x="1010" y="772.1">Ebr_Ebr1000311g00001</text></g>
<g id="L98"><path class="bt" d="M1002 776.3H1008"/><text class="bl" x="1000" y="777.3">0.0</text><text class="nm" x="1010" y="780">Eri_Eri5g00262</text></g>
<g id="L99"><path class="bt" d="M937 784.1H943"/><text class="bl" x="935" y="785.1">0.0306</text><text class="nm" x="945" y="787.8">Era_Era1g02492</text></g>
<g id="L100"><path class="bt" d="M857 792H863"/><text class="bl" x="855" y="793">0.0298</text><text class="nm" x="865" y="795.7">Cesa_Cesa3g00885</text></g>
<g id="L101"><path class="bt" d="M820 799.9H826"/><text class="bl" x="818" y="800.9">0.0</text><text class="nm" x="828" y="803.6">Eeli_Eeli0003348g00003</text></g>
<g id="L102"><path class="bt" d="M820 807.7H826"/><text class="bl" x="818" y="808.7">0.0</text><text class="nm" x="828" y="811.4">Era_Era7g01755</text></g>
<g id="L103"><path class="bt" d="M727 815.6H733"/><text class="bl" x="725" y="816.6">0.0</text><text class="nm" x="735" y="819.3">Papi_Papi3g00083</text></g>
<g id="L104"><path class="bt" d="M727 823.5H733"/><text class="bl" x="725" y="824.5">0.0</text><text class="nm" x="735" y="827.2">Papi_Papi4g00084</text></g>
<g id="L105"><path class="bt" d="M697 831.4H703"/><text class="bl" x="695" y="832.4">0.0306</text><text class="nm" x="705" y="835.1">Smsn_Smsn3g00501</text></g>
<g id="L106"><path class="bt" d="M710 839.2H716"/><text class="bl" x="708" y="840.2">0.0411</text><text class="nm" x="718" y="842.9">Smsn_Smsn2g00845</text></g>
<g id="L107"><path class="bt" d="M664 847.1H670"/><text class="bl" x="662" y="848.1">0.0435</text><text class="nm" x="672" y="850.8">Eay_Eay4g00435</text></g>
<g id="L108"><path class="bt" d="M650 855H656"/><text class="bl" x="648" y="856">0.0322</text><text class="nm" x="658" y="858.7">Erin_Erin1g00651</text></g>
<g id="L109"><path class="bt" d="M507 862.8H513"/><text class="bl" x="505" y="863.8">0.0347</text><text class="nm" x="515" y="866.5">Lomi_Lomi1g00592</text></g>
<g id="L110"><path class="bt" d="M599 870.7H605"/><text class="bl" x="597" y="871.7">0.0339</text><text class="nm" x="607" y="874.4">Heub_Heub0000000001.1g00517</text></g>
<g id="L111"><path class="bt" d="M605 878.6H611"/><text class="bl" x="603" y="879.6">0.0387</text><text class="nm" x="613" y="882.3">Pelu_Pelu1g00445</text></g>
<g id="L112"><path class="bt" d="M559 886.4H565"/><text class="bl" x="557" y="887.4">0.0443</text><text class="nm" x="567" y="890.1">Lomi_Lomi2g01448</text></g>
<g id="L113"><path class="bt" d="M514 894.3H520"/><text class="bl" x="512" y="895.3">0.0403</text><text class="nm" x="522" y="898">Chmo_Chmo1000000g00452</text></g>
<g id="L114"><path class="bt" d="M514 902.2H520"/><text class="bl" x="512" y="903.2">0.0403</text><text class="nm" x="522" y="905.9">Eich_Eich1g02728</text></g>
<g id="L115"><path class="bt" d="M757 910.1H763"/><text class="bl" x="755" y="911.1">0.2362</text><text class="nm" x="765" y="913.8">Ccar_Ccar1g00871</text></g>
<g id="L116"><path class="bt" d="M550 917.9H556"/><text class="bl" x="548" y="918.9">0.0371</text><text class="nm" x="558" y="921.6">Chma_Chma7g00448</text></g>
<g id="L117"><path class="bt" d="M597 925.8H603"/><text class="bl" x="595" y="926.8">0.0</text><text class="nm" x="605" y="929.5">Aann_Aann4g01354</text></g>
<g id="L118"><path class="bt" d="M597 933.7H603"/><text class="bl" x="595" y="934.7">0.0</text><text class="nm" x="605" y="937.4">Aary_Aary3g01483</text></g>
<g id="L119"><path class="bt" d="M597 941.5H603"/><text class="bl" x="595" y="942.5">0.0</text><text class="nm" x="605" y="945.2">Aary_Aary1g00521</text></g>
<g id="L120"><path class="bt" d="M597 949.4H603"/><text class="bl" x="595" y="950.4">0.0</text><text class="nm" x="605" y="953.1">Aary_Aary1g01482</text></g>
<g id="L121"><path class="bt" d="M610 957.3H616"/><text class="bl" x="608" y="958.3">0.0</text><text class="nm" x="618" y="961">Chla_Chla4g00359</text></g>
<g id="L122"><path class="bt" d="M610 965.1H616"/><text class="bl" x="608" y="966.1">0.0</text><text class="nm" x="618" y="968.8">Chmo_Chmo1g02553</text></g>
<g id="L123"><path class="bt" d="M610 973H616"/><text class="bl" x="608" y="974">0.0</text><text class="nm" x="618" y="976.7">Chmo_Chmo1g02471</text></g>
<g id="L124"><path class="bt" d="M610 980.9H616"/><text class="bl" x="608" y="981.9">0.0</text><text class="nm" x="618" y="984.6">Chmo_Chmo1g02502</text></g>
<g id="scalebar"><path d="M12 989.5H75M12 988V991M75 988V991" stroke="#333" stroke-width="1" fill="none"/><text class="sc" x="12" y="998">0.05</text></g>
</svg>
